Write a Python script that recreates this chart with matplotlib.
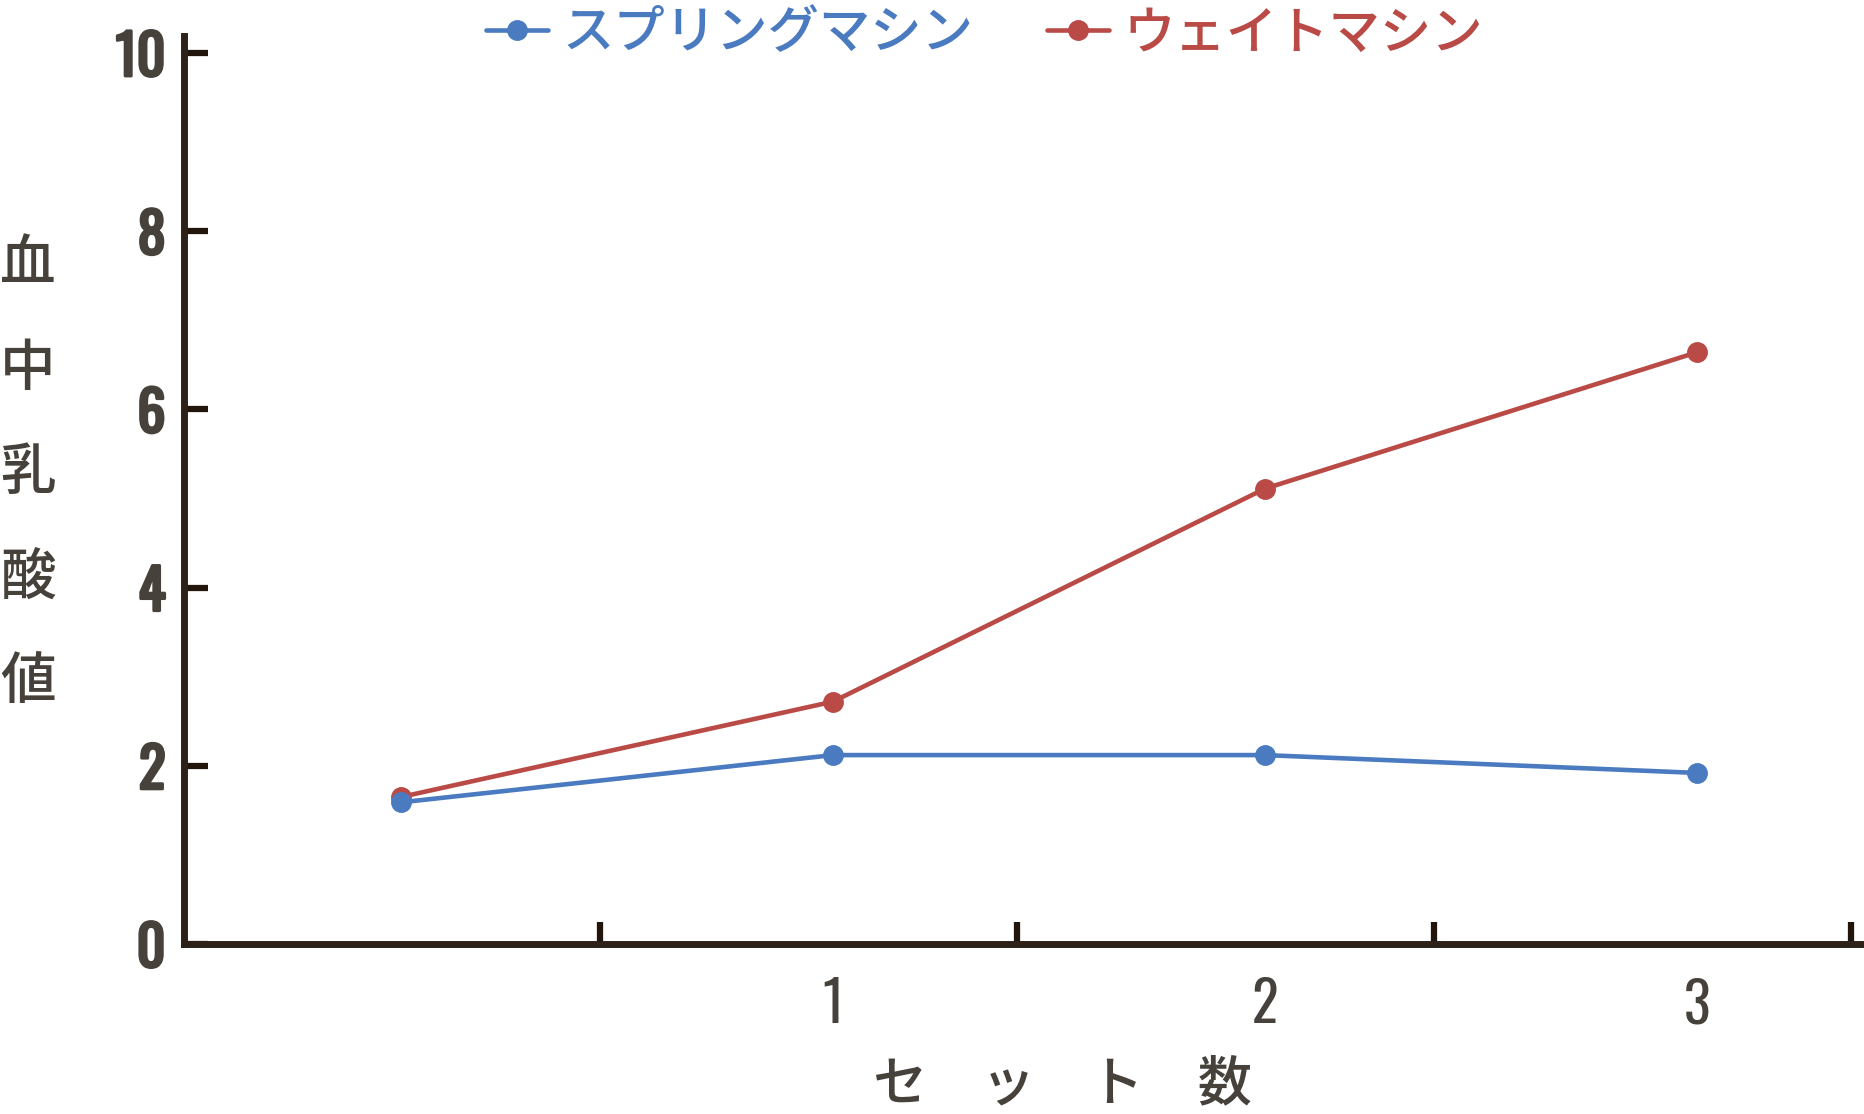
import matplotlib
matplotlib.use("Agg")
import matplotlib.pyplot as plt
import matplotlib.patheffects as pe
import numpy as np

# ---- data ----
sets = [0, 1, 2, 3]
set_labels = ["1", "2", "3"]
spring = [1.59, 2.12, 2.12, 1.92]
weight = [1.65, 2.72, 5.11, 6.64]
series_names = ["スプリングマシン", "ウェイトマシン"]
y_ticks = [0, 2, 4, 6, 8, 10]
xlabel = "セ\u3000ッ\u3000ト\u3000数"
ylabel = "血\n中\n乳\n酸\n値"

# ---- style ----
BLUE = "#4a7bc0"
RED = "#b94a46"
SPINE = "#2e2218"
TICKC = "#22150c"
TEXTC = "#46423b"
CJK = ["Noto Sans CJK JP", "DejaVu Sans"]
NUM = ["Oswald", "DejaVu Sans"]

fig = plt.figure(figsize=(18.65, 11.14), dpi=100)
ax = fig.add_axes([0.0984, 0.1526, 0.9011, 0.8151])

xmin, xmax = -0.5035, 3.387
tick_step = 0.9653

ax.plot(sets, spring, color=BLUE, lw=3.3, marker="o", ms=14, zorder=4,
        label=series_names[0], solid_capstyle="round")
ax.plot(sets, weight, color=RED, lw=3.3, marker="o", ms=14, zorder=3,
        label=series_names[1], solid_capstyle="round")

ax.set_xlim(xmin, xmax)
ax.set_ylim(0, 10.19)

for s in ["top", "right"]:
    ax.spines[s].set_visible(False)
for s in ["left", "bottom"]:
    ax.spines[s].set_color(SPINE)
    ax.spines[s].set_linewidth(5)
    ax.spines[s].set_capstyle("projecting")

ax.set_yticks(y_ticks)
ax.set_yticklabels([str(v) for v in y_ticks])
ax.tick_params(axis="y", direction="in", length=17, width=4.5, color=TICKC,
               pad=13, labelsize=40, labelcolor=TEXTC)
bold_fx = [pe.withStroke(linewidth=2.2, foreground=TEXTC)]
for t in ax.get_yticklabels():
    t.set_family(NUM)
    t.set_fontweight("bold")
    t.set_path_effects(bold_fx)

# boundary ticks (major, no labels) and category labels (minor, no marks)
ax.set_xticks(xmin + tick_step * np.arange(1, 5))
ax.set_xticklabels([])
ax.tick_params(axis="x", which="major", direction="in", length=16, width=4.5,
               color=TICKC)
ax.set_xticks(sets[1:], minor=True)
ax.set_xticklabels(set_labels, minor=True)
ax.tick_params(axis="x", which="minor", length=0, pad=24, labelsize=40,
               labelcolor=TEXTC)
for t in ax.get_xticklabels(minor=True):
    t.set_family(NUM)

ax.set_xlabel(xlabel, family=CJK, fontsize=39, color=TEXTC, fontweight="medium")
ax.xaxis.label.set_va("center")
ax.xaxis.set_label_coords(0.5227, -0.155)

ax.set_ylabel(ylabel, family=CJK, fontsize=40, color=TEXTC, rotation=0,
              linespacing=2.1, fontweight="medium")
ax.yaxis.label.set_va("center")
ax.yaxis.label.set_ha("center")
ax.yaxis.set_label_coords(-0.0925, 0.5187)

leg = fig.legend(loc="center", bbox_to_anchor=(0.528, 0.970), ncol=2,
                 frameon=False, handlelength=1.2, handletextpad=0.3,
                 columnspacing=1.42, borderpad=0, labelcolor="linecolor",
                 prop={"family": CJK, "size": 37, "weight": "medium"})

fig.savefig("out.png", dpi=100)
